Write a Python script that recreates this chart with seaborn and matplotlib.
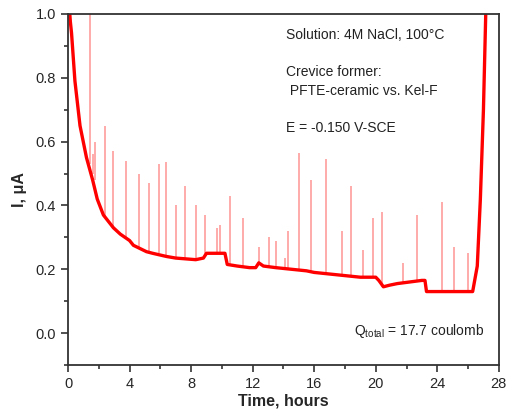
import numpy as np
import pandas as pd
import matplotlib
matplotlib.use("Agg")
import matplotlib.pyplot as plt
import seaborn as sns
from matplotlib.ticker import MultipleLocator

# base current trace (hours, uA)
base_t = [0.1, 0.23, 0.45, 0.78, 1.2, 1.6, 1.9, 2.3, 2.95, 3.4, 4.0, 4.25, 5.1, 5.5,
          6.4, 7.0, 8.3, 8.8, 9.0, 9.6, 10.2, 10.35, 11.0, 11.8, 12.2, 12.4, 12.7,
          13.5, 14.5, 15.5, 16.0, 17.0, 18.0, 19.0, 20.0, 20.2, 20.5, 20.9, 21.4,
          22.2, 23.0, 23.2, 23.3, 24.5, 25.5, 26.3, 26.6, 26.8, 27.0, 27.15]
base_i = [1.0, 0.94, 0.79, 0.65, 0.55, 0.48, 0.42, 0.37, 0.33, 0.31, 0.29, 0.275,
          0.255, 0.25, 0.24, 0.235, 0.23, 0.235, 0.25, 0.25, 0.25, 0.215, 0.21,
          0.205, 0.205, 0.22, 0.21, 0.205, 0.2, 0.195, 0.19, 0.185, 0.18, 0.175,
          0.175, 0.165, 0.145, 0.15, 0.155, 0.16, 0.165, 0.165, 0.13, 0.13, 0.13,
          0.13, 0.21, 0.42, 0.7, 1.0]

# current spikes: time, trace level at that time, peak
spike_t = [0.2, 1.43, 1.62, 1.75, 2.4, 2.95, 3.77, 4.6, 5.27, 5.9, 6.35, 7.0, 7.6,
           8.3, 8.9, 9.7, 9.85, 10.5, 11.35, 12.4, 13.05, 13.55, 14.1, 14.3, 15.0,
           15.8, 16.8, 17.8, 18.4, 19.2, 19.8, 20.4, 21.8, 22.7, 24.3, 25.1, 26.0]
spike_base = [0.97, 0.53, 0.5, 0.48, 0.36, 0.33, 0.3, 0.27, 0.255, 0.25, 0.24,
              0.235, 0.235, 0.23, 0.24, 0.25, 0.25, 0.215, 0.21, 0.22, 0.21, 0.21,
              0.205, 0.205, 0.2, 0.195, 0.185, 0.18, 0.18, 0.175, 0.175, 0.145,
              0.16, 0.165, 0.13, 0.13, 0.13]
spike_peak = [1.0, 1.0, 0.56, 0.6, 0.65, 0.57, 0.54, 0.5, 0.47, 0.53, 0.535, 0.4,
              0.46, 0.4, 0.37, 0.33, 0.34, 0.43, 0.36, 0.27, 0.3, 0.29, 0.235, 0.32,
              0.565, 0.48, 0.545, 0.32, 0.46, 0.26, 0.36, 0.38, 0.22, 0.37, 0.41,
              0.27, 0.25]

df = pd.DataFrame({"t": base_t, "i": base_i})

sns.set_style("ticks")
plt.rcParams["font.family"] = ["Liberation Sans", "DejaVu Sans"]
plt.rcParams["mathtext.fontset"] = "custom"
plt.rcParams["mathtext.rm"] = "Liberation Sans"
plt.rcParams["mathtext.it"] = "Liberation Sans"

fig = plt.figure(figsize=(5.09, 4.19), dpi=100)
ax = fig.add_axes([0.1336, 0.129, 0.8464, 0.8376])

ax.vlines(spike_t, spike_base, spike_peak, color="#ff9c9c", lw=1.2)
sns.lineplot(data=df, x="t", y="i", ax=ax, color="#ff0000", lw=2.4, sort=False)

ax.set_xlim(0, 28)
ax.set_ylim(-0.1, 1.0)
ax.xaxis.set_major_locator(MultipleLocator(4))
ax.xaxis.set_minor_locator(MultipleLocator(2))
ax.yaxis.set_major_locator(MultipleLocator(0.2))
ax.yaxis.set_minor_locator(MultipleLocator(0.1))
ax.set_yticks([0.0, 0.2, 0.4, 0.6, 0.8, 1.0])
ax.set_yticklabels(["0.0", "0.2", "0.4", "0.6", "0.8", "1.0"])
ax.tick_params(which="major", length=5, width=1.2, labelsize=10.5, color="#333333")
ax.tick_params(which="minor", length=3, width=1.2, color="#333333")
for s in ax.spines.values():
    s.set_linewidth(1.3)
    s.set_color("#333333")

ax.set_xlabel("Time, hours", fontsize=11.5, fontweight="bold", labelpad=2)
ax.set_ylabel("I, \u03bcA", fontsize=11.5, fontweight="bold", labelpad=6)

ax.text(0.506, 0.94, "Solution: 4M NaCl, 100\u00b0C", transform=ax.transAxes,
        fontsize=10, va="center", ha="left", color="#222222")
ax.text(0.506, 0.835, "Crevice former:", transform=ax.transAxes,
        fontsize=10, va="center", ha="left", color="#222222")
ax.text(0.506, 0.78, " PFTE-ceramic vs. Kel-F", transform=ax.transAxes,
        fontsize=10, va="center", ha="left", color="#222222")
ax.text(0.506, 0.675, "E = -0.150 V-SCE", transform=ax.transAxes,
        fontsize=10, va="center", ha="left", color="#222222")
ax.text(0.967, 0.097, r"Q$_{\mathrm{total}}$ = 17.7 coulomb", transform=ax.transAxes,
        fontsize=10, va="center", ha="right", color="#222222")

fig.savefig("out.png", dpi=100)
